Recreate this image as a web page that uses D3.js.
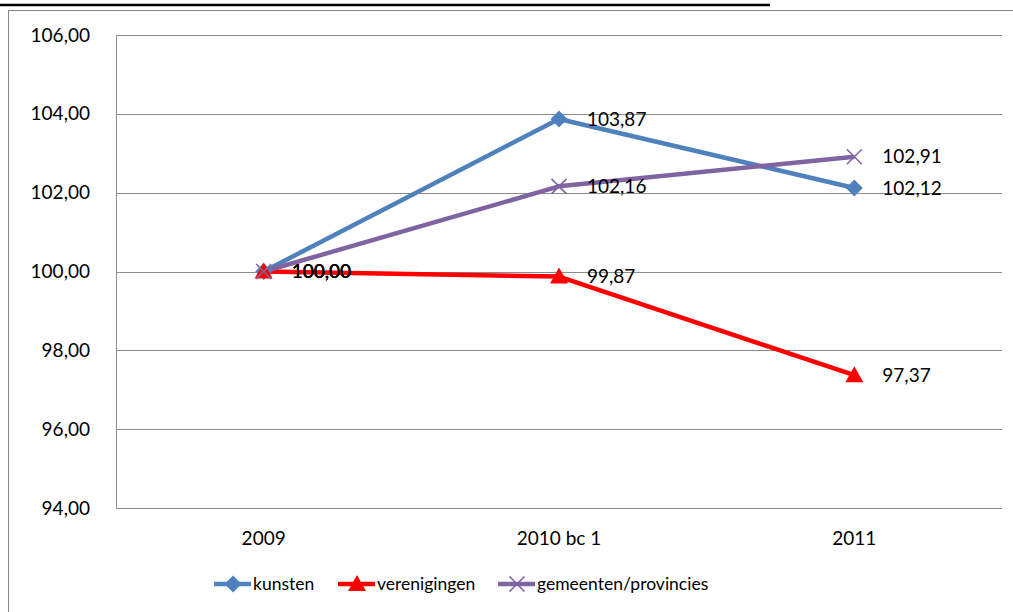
<!DOCTYPE html>
<html>
<head>
<meta charset="utf-8">
<script src="https://cdn.jsdelivr.net/npm/d3@7"></script>
<style>
  body { margin: 0; background: #fff; }
  svg { display: block; font-family: Lato, "Open Sans", sans-serif; }
</style>
</head>
<body>
<svg id="chart" width="1013" height="612"></svg>
<script>
// Chart data
const categories = ["2009", "2010 bc 1", "2011"];
const kunsten = [100.00, 103.87, 102.12];
const verenigingen = [100.00, 99.87, 97.37];
const gemeenten = [100.00, 102.16, 102.91];
const yTicks = [94, 96, 98, 100, 102, 104, 106];

const series = [
  { name: "kunsten", values: kunsten, color: "#4F81BD", marker: "diamond" },
  { name: "verenigingen", values: verenigingen, color: "#FF0000", marker: "triangle" },
  { name: "gemeenten/provincies", values: gemeenten, color: "#8064A2", marker: "x" }
];

const fmt = v => d3.format(".2f")(v).replace(".", ",");

const svg = d3.select("#chart");
const margin = { left: 116, right: 1002, top: 35, bottom: 508 };

// Outer frame + cut-off title underline
svg.append("line").attr("x1", 0).attr("x2", 770).attr("y1", 5).attr("y2", 5)
  .attr("stroke", "#000").attr("stroke-width", 2.5);
svg.append("rect").attr("x", 8.5).attr("y", 10.5).attr("width", 1020).attr("height", 620)
  .attr("fill", "none").attr("stroke", "#888").attr("stroke-width", 1);

// Scales
const x = d3.scaleBand().domain(categories).range([margin.left, margin.right]);
const y = d3.scaleLinear().domain([94, 106]).range([margin.bottom, margin.top]);
const cx = c => x(c) + x.bandwidth() / 2;

// Gridlines
svg.append("g").selectAll("line").data(yTicks).join("line")
  .attr("x1", margin.left).attr("x2", margin.right)
  .attr("y1", d => Math.round(y(d)) + 0.5).attr("y2", d => Math.round(y(d)) + 0.5)
  .attr("stroke", "#8c8c8c").attr("stroke-width", 1);

// Y axis line
svg.append("line").attr("x1", margin.left + 0.5).attr("x2", margin.left + 0.5)
  .attr("y1", margin.top).attr("y2", margin.bottom)
  .attr("stroke", "#8c8c8c");

// Y tick labels
svg.append("g").selectAll("text").data(yTicks).join("text")
  .attr("x", 90).attr("y", d => y(d)).attr("dy", "0.35em")
  .attr("text-anchor", "end").attr("font-size", 19).text(d => fmt(d));

// X tick labels
svg.append("g").selectAll("text").data(categories).join("text")
  .attr("x", d => cx(d)).attr("y", 545).attr("text-anchor", "middle")
  .attr("font-size", 19).text(d => d);

// Markers
function drawMarker(g, type, color) {
  if (type === "diamond") {
    g.append("path").attr("d", "M0,-8.5L8.5,0L0,8.5L-8.5,0Z").attr("fill", color);
  } else if (type === "triangle") {
    g.append("path").attr("d", "M0,-9L9,7L-9,7Z").attr("fill", color);
  } else {
    g.append("path").attr("d", "M-7.5,-7.5L7.5,7.5M-7.5,7.5L7.5,-7.5")
      .attr("stroke", color).attr("stroke-width", 1.6).attr("fill", "none");
  }
}

const line = d3.line().x((d, i) => cx(categories[i])).y(d => y(d));

series.forEach(s => {
  svg.append("path").datum(s.values).attr("d", line)
    .attr("fill", "none").attr("stroke", s.color).attr("stroke-width", 4.5)
    .attr("stroke-linejoin", "round");
});
series.forEach(s => {
  s.values.forEach((v, i) => {
    const g = svg.append("g").attr("transform", `translate(${cx(categories[i])},${y(v)})`);
    drawMarker(g, s.marker, s.color);
  });
});

// Data labels
series.forEach(s => {
  svg.append("g").selectAll("text").data(s.values).join("text")
    .attr("x", (d, i) => cx(categories[i]) + 28).attr("y", d => y(d)).attr("dy", "0.35em")
    .attr("font-size", 19).attr("fill", "#000").text(d => fmt(d));
});

// Legend
const legendX = [214, 338, 498];
const legend = svg.append("g").selectAll("g").data(series).join("g")
  .attr("transform", (d, i) => `translate(${legendX[i]},584)`);
legend.append("line").attr("x1", 0).attr("x2", 37).attr("y1", 0).attr("y2", 0)
  .attr("stroke", d => d.color).attr("stroke-width", 4.5);
legend.each(function (d) {
  drawMarker(d3.select(this).append("g").attr("transform", "translate(19,0)"), d.marker, d.color);
});
legend.append("text").attr("x", 39).attr("dy", "0.35em").attr("font-size", 17.5).text(d => d.name);
</script>
</body>
</html>
